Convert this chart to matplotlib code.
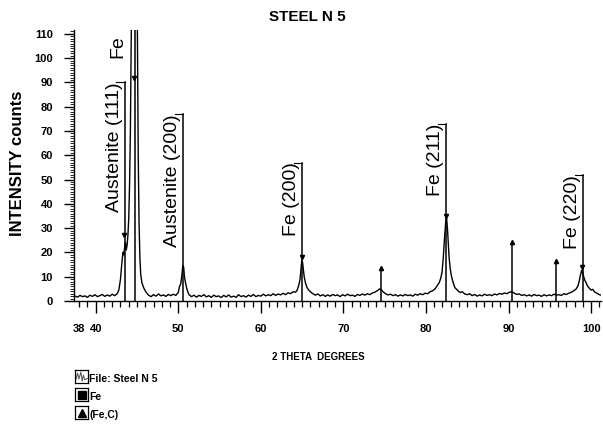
import numpy as np
import matplotlib
matplotlib.use("Agg")
import matplotlib.pyplot as plt
from matplotlib.ticker import MultipleLocator

plt.rcParams['font.family'] = ['Liberation Sans', 'DejaVu Sans']

two_theta = [
    37.5, 37.8, 38.1, 38.4, 38.7, 39.0, 39.3, 39.6, 39.9, 40.2, 40.5, 40.8, 41.1, 41.4, 41.7, 42.0, 42.3, 42.6,
    42.8, 43.0, 43.15, 43.3, 43.4, 43.5, 43.6, 43.7, 43.8, 43.9, 44.0, 44.1, 44.2, 44.3, 44.45, 44.6, 44.7,
    44.8, 44.95, 45.05, 45.15, 45.25, 45.35, 45.45, 45.6, 45.8, 46.0, 46.2,
    46.4, 46.7, 47.0, 47.3, 47.6, 47.9, 48.2, 48.5, 48.8, 49.1, 49.4, 49.7, 50.0,
    50.15, 50.3, 50.45, 50.55, 50.65, 50.75, 50.85, 51.0, 51.15, 51.3,
    51.6, 51.9, 52.2, 52.5, 52.8, 53.1, 53.4, 53.7, 54.0, 54.3, 54.6, 54.9, 55.2, 55.5, 55.8, 56.1, 56.4,
    56.7, 57.0, 57.3, 57.6, 57.9, 58.2, 58.5, 58.8, 59.1, 59.4, 59.7, 60.0, 60.3, 60.6, 60.9, 61.2, 61.5,
    61.8, 62.1, 62.4, 62.7, 63.0, 63.3, 63.6, 63.9, 64.2,
    64.4, 64.6, 64.75, 64.85, 64.95, 65.05, 65.15, 65.25, 65.4, 65.6, 65.8, 66.0, 66.3,
    66.6, 66.9, 67.2, 67.5, 67.8, 68.1, 68.4, 68.7, 69.0, 69.3, 69.6, 69.9, 70.2, 70.5, 70.8, 71.1, 71.4,
    71.7, 72.0, 72.3, 72.6, 72.9, 73.2, 73.5, 73.8, 74.1, 74.4, 74.6, 74.8, 75.1, 75.4,
    75.7, 76.0, 76.3, 76.6, 76.9, 77.2, 77.5, 77.8, 78.1, 78.4, 78.7, 79.0, 79.3, 79.6, 79.9, 80.2, 80.5,
    80.8, 81.1, 81.4, 81.6, 81.8, 81.95, 82.1, 82.25, 82.4, 82.5, 82.6, 82.7, 82.8, 82.95, 83.1, 83.3,
    83.5, 83.8, 84.1, 84.4, 84.7,
    85.0, 85.3, 85.6, 85.9, 86.2, 86.5, 86.8, 87.1, 87.4, 87.7, 88.0, 88.3, 88.6, 88.9, 89.2, 89.5, 89.8,
    90.1, 90.4, 90.7, 91.0, 91.3, 91.6, 91.9, 92.2, 92.5, 92.8, 93.1, 93.4, 93.7, 94.0, 94.3, 94.6, 94.9,
    95.2, 95.5, 95.8, 96.1, 96.4, 96.7, 97.0, 97.3, 97.6, 97.9, 98.2, 98.4, 98.55, 98.7, 98.85, 98.95,
    99.1, 99.25, 99.4, 99.6, 99.8, 100.0, 100.2, 100.4, 100.6, 100.8, 101.0, 101.2,
]
counts = [
    2.0, 1.6, 2.3, 1.8, 2.1, 1.5, 2.4, 1.9, 2.6, 1.8, 2.2, 2.7, 1.9, 2.5, 2.0, 2.8, 2.2, 3.0,
    4.5, 9, 15, 20, 19, 22, 24, 21, 23, 27, 34, 48, 70, 105, 170, 300, 360,
    300, 170, 110, 60, 32, 18, 11, 7.5, 5.5, 4.2, 3.2,
    2.4, 1.8, 2.6, 2.0, 2.9, 2.1, 2.5, 1.9, 2.7, 2.2, 2.8, 2.3, 3.5,
    6, 7, 11, 14.5, 14, 10, 8, 5.5, 3.8, 2.6,
    1.8, 2.4, 1.6, 2.3, 1.9, 2.6, 1.7, 2.2, 1.5, 2.4, 1.8, 2.1, 1.4, 2.3, 1.7, 2.5, 1.6,
    2.0, 1.5, 2.6, 1.8, 2.2, 1.6, 2.4, 1.9, 2.7, 1.8, 2.3, 2.0, 2.8, 2.1, 2.6, 2.2, 3.0,
    2.3, 2.9, 2.5, 3.2, 2.6, 3.4, 3.0, 3.8, 3.6,
    4.5, 6.5, 9, 13, 16.5, 16, 13, 10, 7.5, 5.5, 4.5, 3.8, 3.0,
    2.4, 2.9, 2.1, 2.6, 1.9, 2.5, 2.0, 2.7, 2.2, 2.5, 1.8, 2.6, 2.1, 2.8, 2.2, 2.4, 1.9,
    2.7, 2.3, 2.9, 2.4, 3.0, 2.6, 3.3, 3.6, 4.2, 5.0, 4.6, 3.8, 3.0, 2.5,
    2.8, 2.2, 2.6, 2.0, 2.5, 2.1, 2.7, 2.2, 2.5, 2.0, 2.8, 2.4, 3.0, 2.6, 3.2, 3.0, 3.8,
    4.2, 5.0, 6.5, 7.5, 9.5, 12, 18, 26, 33, 34, 30, 24, 18, 13, 10, 7.5,
    5.5, 4.5, 3.5, 3.8, 2.9,
    2.6, 3.0, 2.2, 2.7, 2.0, 2.5, 2.1, 2.8, 2.3, 2.6, 2.2, 2.9, 2.5, 3.1, 2.8, 3.3, 3.0,
    3.6, 3.8, 3.2, 2.7, 2.9, 2.3, 2.6, 2.1, 2.5, 2.0, 2.7, 2.2, 2.4, 1.9, 2.6, 2.1, 2.5,
    2.2, 2.8, 2.4, 2.6, 2.3, 3.0, 2.7, 3.2, 3.6, 4.2, 5.0, 6.2, 8, 10.5, 12.5, 12,
    10, 8.5, 7.5, 6.0, 5.2, 4.5, 4.8, 3.8, 3.4, 3.0, 2.6, 2.4,
]

# labelled reference lines (position, height of leader, label)
ref_pos = [43.5, 50.55, 65.0, 82.4, 99.05]
ref_top = [90, 77, 57, 73, 52]
ref_labels = ['Austenite (111)', 'Austenite (200)', 'Fe (200)', 'Fe (211)', 'Fe (220)']

# main Fe line, runs off the top
fe_main_pos = 44.75
fe_main_label = 'Fe'

# (Fe,C) sticks
fec_pos = [74.55, 90.45, 95.75]
fec_top = [13.5, 24.5, 16.5]

# peak markers on the curve
mark_pos = [43.45, 44.6, 65.0, 82.45, 98.9]
mark_val = [27, 92, 18, 35, 14]

W, H = 603, 434
fig = plt.figure(figsize=(W / 100, H / 100), dpi=100)
ax = fig.add_axes([74 / W, 1 - 301 / H, (601 - 74) / W, (301 - 30) / H])

ax.plot(two_theta, counts, color='black', lw=1.0)

for pos, top, lab in zip(ref_pos, ref_top, ref_labels):
    ax.plot([pos, pos], [0, top], color='black', lw=1.1)
    ax.plot([pos - 1.0, pos], [top, top], color='black', lw=0.8)
    ax.annotate(lab, xy=(pos, top), xytext=(-1.5, 0), textcoords='offset points',
                rotation=90, ha='right', va='top', fontsize=14)

ax.plot([fe_main_pos, fe_main_pos], [0, 112], color='black', lw=1.1)
ax.annotate(fe_main_label, xy=(fe_main_pos, 100), xytext=(-6, 0), textcoords='offset points',
            rotation=90, ha='right', va='bottom', fontsize=14)

for pos, top in zip(fec_pos, fec_top):
    ax.plot([pos, pos], [0, top], color='black', lw=1.1)
    ax.plot(pos, top, marker='^', color='black', ms=3)

ax.plot(mark_pos, mark_val, linestyle='None', marker='v', color='black', ms=3)

ax.set_xlim(37.37, 101.2)
ax.set_ylim(0, 111.6)
ax.spines['top'].set_visible(False)
ax.spines['right'].set_visible(False)
ax.spines['left'].set_linewidth(1.0)
ax.spines['bottom'].set_linewidth(1.0)

ax.set_xticks([38, 40, 50, 60, 70, 80, 90, 100])
ax.xaxis.set_minor_locator(MultipleLocator(1))
ax.yaxis.set_major_locator(MultipleLocator(10))
ax.yaxis.set_minor_locator(MultipleLocator(1))
ax.tick_params(axis='x', which='major', length=8.5, width=1, pad=8, labelsize=8)
ax.tick_params(axis='x', which='minor', length=4.3, width=0.9)
ax.tick_params(axis='y', which='major', length=7.2, width=1, pad=8, labelsize=8)
ax.tick_params(axis='y', which='minor', length=3, width=0.6)
ax.xaxis.get_major_ticks()[0].tick1line.set_markersize(4.3)
for t in ax.get_xticklabels() + ax.get_yticklabels():
    t.set_fontweight('bold')

fig.text(307 / W, 1 - 17 / H, 'STEEL N 5', ha='center', va='center', fontsize=11, fontweight='bold')
fig.text(318 / W, 1 - 357 / H, '2 THETA  DEGREES', ha='center', va='center', fontsize=7, fontweight='bold')
fig.text(18 / W, 1 - 163 / H, 'INTENSITY counts', ha='center', va='center', rotation=90,
         fontsize=12, fontweight='bold')

# legend drawn by hand below the plot
leg_boxes = [370, 388, 406]
leg_text = ['File: Steel N 5', 'Fe', '(Fe,C)']
for i, (ytop, lab) in enumerate(zip(leg_boxes, leg_text)):
    bx = fig.add_axes([75 / W, 1 - (ytop + 13) / H, 13 / W, 13 / H])
    bx.set_xticks([])
    bx.set_yticks([])
    bx.set_xlim(0, 1)
    bx.set_ylim(0, 1)
    for s in bx.spines.values():
        s.set_linewidth(0.9)
    if i == 0:
        bx.plot([0.05, 0.2, 0.3, 0.45, 0.55, 0.65, 0.75, 0.95],
                [0.2, 0.75, 0.3, 0.85, 0.15, 0.6, 0.25, 0.35], color='0.3', lw=0.7)
    elif i == 1:
        bx.plot(0.5, 0.5, marker='s', color='black', ms=6)
    else:
        bx.plot(0.5, 0.45, marker='^', color='black', ms=6)
    fig.text(89 / W, 1 - (ytop + 9) / H, lab, ha='left', va='center', fontsize=7.5, fontweight='bold')

fig.savefig('out.png', dpi=100)
